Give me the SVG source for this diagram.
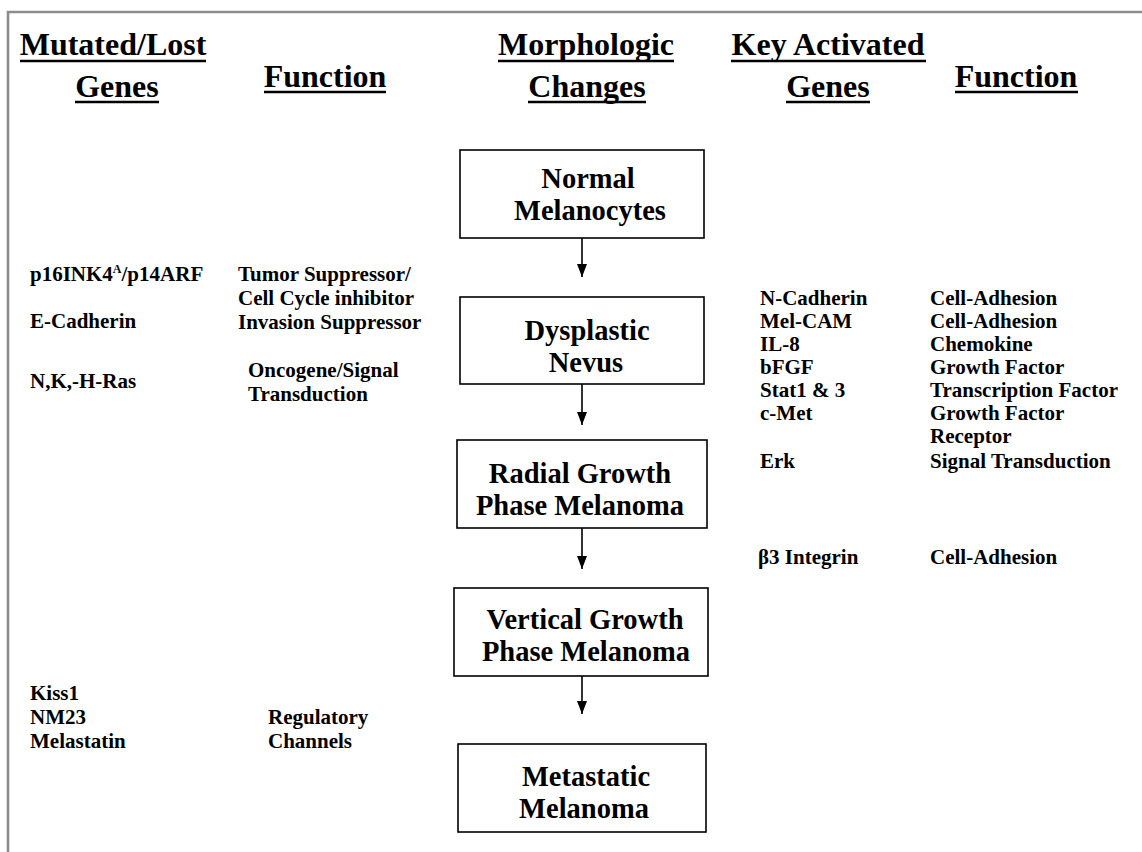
<svg xmlns="http://www.w3.org/2000/svg" width="1142" height="852" viewBox="0 0 1142 852">
<style>
  text { font-family: "Liberation Serif", "Times New Roman", serif; font-weight: bold; fill: #000; }
  .hdr { font-size: 32px; text-anchor: middle; }
  .bt { font-size: 28.5px; text-anchor: middle; }
  .lbl { font-size: 21px; }
  .ul { stroke: #000; stroke-width: 2.5; }
  .box { fill: #fff; stroke: #000; stroke-width: 1.6; }
  .conn { stroke: #000; stroke-width: 1.6; fill: none; marker-end: url(#ah); }
  .frame { stroke: #8c8c8c; stroke-width: 2.6; fill: none; }
</style>
<defs>
  <marker id="ah" viewBox="0 0 13 10" refX="13" refY="5" markerWidth="13" markerHeight="10" markerUnits="userSpaceOnUse" orient="auto">
    <path d="M0,0 L13,5 L0,10 z" fill="#000"/>
  </marker>
</defs>
<rect width="1142" height="852" fill="#fff"/>
<path class="frame" d="M8,852 V12 H1142"/>

<g id="headers">
  <text class="hdr" x="113" y="55">Mutated/Lost</text>
  <line class="ul" x1="20" y1="61" x2="206" y2="61"/>
  <text class="hdr" x="117" y="97">Genes</text>
  <line class="ul" x1="75" y1="102" x2="159" y2="102"/>
  <text class="hdr" x="325" y="87">Function</text>
  <line class="ul" x1="264" y1="92" x2="386" y2="92"/>
  <text class="hdr" x="586" y="55">Morphologic</text>
  <line class="ul" x1="498" y1="61" x2="674" y2="61"/>
  <text class="hdr" x="587" y="97">Changes</text>
  <line class="ul" x1="528" y1="102" x2="646" y2="102"/>
  <text class="hdr" x="828" y="55">Key Activated</text>
  <line class="ul" x1="731" y1="61" x2="926" y2="61"/>
  <text class="hdr" x="828" y="97">Genes</text>
  <line class="ul" x1="786" y1="102" x2="870" y2="102"/>
  <text class="hdr" x="1016" y="87">Function</text>
  <line class="ul" x1="955" y1="92" x2="1078" y2="92"/>
</g>

<g id="connectors">
  <line class="conn" x1="582" y1="238" x2="582" y2="277"/>
  <line class="conn" x1="582" y1="384" x2="582" y2="425"/>
  <line class="conn" x1="582" y1="528" x2="582" y2="569"/>
  <line class="conn" x1="582" y1="676" x2="582" y2="714"/>
</g>

<g id="n-normal">
  <rect class="box" x="460" y="150" width="244" height="88"/>
  <text class="bt" x="588" y="188">Normal</text>
  <text class="bt" x="590" y="220">Melanocytes</text>
</g>
<g id="n-dysplastic">
  <rect class="box" x="460" y="297" width="244" height="87"/>
  <text class="bt" x="587" y="340">Dysplastic</text>
  <text class="bt" x="586" y="372">Nevus</text>
</g>
<g id="n-radial">
  <rect class="box" x="457" y="440" width="250" height="88"/>
  <text class="bt" x="580" y="483">Radial Growth</text>
  <text class="bt" x="580" y="515">Phase Melanoma</text>
</g>
<g id="n-vertical">
  <rect class="box" x="454" y="588" width="254" height="88"/>
  <text class="bt" x="585" y="629">Vertical Growth</text>
  <text class="bt" x="586" y="661">Phase Melanoma</text>
</g>
<g id="n-metastatic">
  <rect class="box" x="458" y="744" width="248" height="88"/>
  <text class="bt" x="586" y="786">Metastatic</text>
  <text class="bt" x="584" y="818">Melanoma</text>
</g>

<g id="lost-genes">
  <text class="lbl" x="30" y="281">p16INK4<tspan font-size="12" dy="-8">A</tspan><tspan dy="8">/p14ARF</tspan></text>
  <text class="lbl" x="30" y="328">E-Cadherin</text>
  <text class="lbl" x="30" y="388">N,K,-H-Ras</text>
  <text class="lbl" x="30" y="700">Kiss1</text>
  <text class="lbl" x="30" y="724">NM23</text>
  <text class="lbl" x="30" y="748">Melastatin</text>
</g>
<g id="lost-functions">
  <text class="lbl" x="238" y="281">Tumor Suppressor/</text>
  <text class="lbl" x="238" y="305">Cell Cycle inhibitor</text>
  <text class="lbl" x="238" y="329">Invasion Suppressor</text>
  <text class="lbl" x="248" y="377">Oncogene/Signal</text>
  <text class="lbl" x="248" y="401">Transduction</text>
  <text class="lbl" x="268" y="724">Regulatory</text>
  <text class="lbl" x="268" y="748">Channels</text>
</g>
<g id="activated-genes">
  <text class="lbl" x="760" y="305">N-Cadherin</text>
  <text class="lbl" x="760" y="328">Mel-CAM</text>
  <text class="lbl" x="760" y="351">IL-8</text>
  <text class="lbl" x="760" y="374">bFGF</text>
  <text class="lbl" x="760" y="397">Stat1 &amp; 3</text>
  <text class="lbl" x="760" y="420">c-Met</text>
  <text class="lbl" x="760" y="468">Erk</text>
  <text class="lbl" x="758" y="564">β3 Integrin</text>
</g>
<g id="activated-functions">
  <text class="lbl" x="930" y="305">Cell-Adhesion</text>
  <text class="lbl" x="930" y="328">Cell-Adhesion</text>
  <text class="lbl" x="930" y="351">Chemokine</text>
  <text class="lbl" x="930" y="374">Growth Factor</text>
  <text class="lbl" x="930" y="397">Transcription Factor</text>
  <text class="lbl" x="930" y="420">Growth Factor</text>
  <text class="lbl" x="930" y="443">Receptor</text>
  <text class="lbl" x="930" y="468">Signal Transduction</text>
  <text class="lbl" x="930" y="564">Cell-Adhesion</text>
</g>
</svg>
